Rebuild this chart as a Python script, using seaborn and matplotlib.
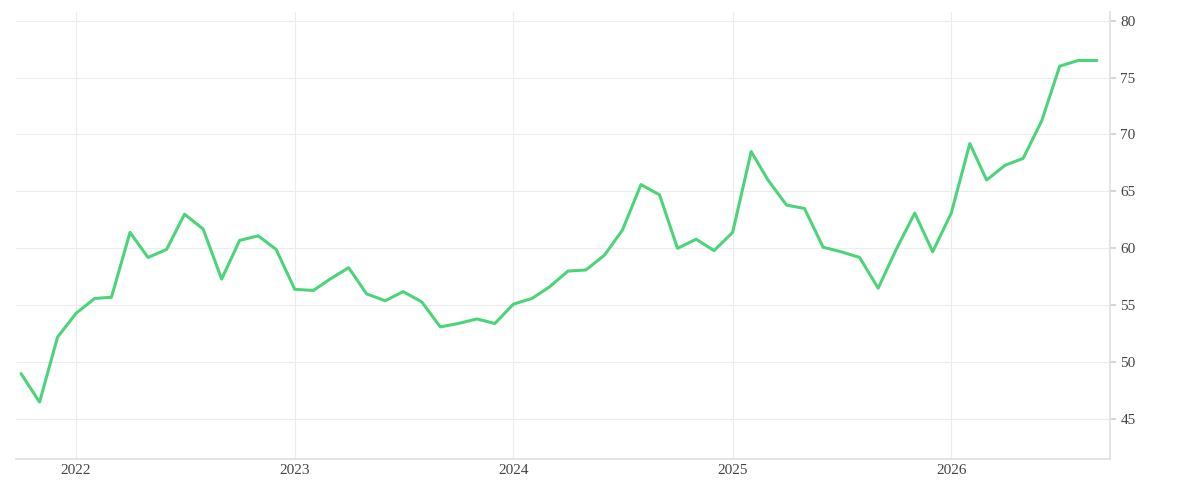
import matplotlib
matplotlib.use("Agg")
import matplotlib.pyplot as plt
import seaborn as sns
import pandas as pd
import numpy as np

start = "2021-10-01"
values = [49.0, 46.5, 52.2, 54.3, 55.6, 55.7, 61.4, 59.2, 59.9, 63.0, 61.7, 57.3,
          60.7, 61.1, 59.9, 56.4, 56.3, 57.3, 58.3, 56.0, 55.4, 56.2, 55.3, 53.1,
          53.4, 53.8, 53.4, 55.1, 55.6, 56.6, 58.0, 58.1, 59.4, 61.6, 65.6, 64.7,
          60.0, 60.8, 59.8, 61.4, 68.5, 66.0, 63.8, 63.5, 60.1, 59.7, 59.2, 56.5,
          59.9, 63.1, 59.7, 63.1, 69.2, 66.0, 67.3, 67.9, 71.2, 76.0, 76.5, 76.5]
yticks = [45, 50, 55, 60, 65, 70, 75, 80]
xtick_labels = ["2022", "2023", "2024", "2025", "2026"]

dates = pd.date_range(start, periods=len(values), freq="MS")
df = pd.DataFrame({"date": dates, "value": values})

sns.set_theme(style="white")
plt.rcParams['font.family'] = ['Liberation Serif', 'DejaVu Serif']
fig = plt.figure(figsize=(12, 5), dpi=100)
ax = fig.add_axes([0.013, 0.082, 0.912, 0.895])
sns.lineplot(data=df, x="date", y="value", ax=ax, color="#4cd47a", linewidth=2.2)

ax.set_ylim(41.5, 80.8)
ax.set_xlim(pd.Timestamp("2021-09-22"), pd.Timestamp("2026-09-23"))
ax.set_yticks(yticks)
ax.set_xticks([pd.Timestamp(f"{y}-01-01") for y in xtick_labels])
ax.set_xticklabels(xtick_labels)
ax.yaxis.tick_right()
ax.grid(True, color="#ececec", linewidth=0.8)
for s in ["top", "left"]:
    ax.spines[s].set_visible(False)
ax.spines["bottom"].set_color("#e0e0e0")
ax.spines["right"].set_color("#e0e0e0")
ax.tick_params(axis="both", labelsize=11, colors="#444444", length=4, color="#d0d0d0")
ax.tick_params(axis="x", length=0)
ax.set_xlabel("")
ax.set_ylabel("")
fig.savefig("out.png", dpi=100)
